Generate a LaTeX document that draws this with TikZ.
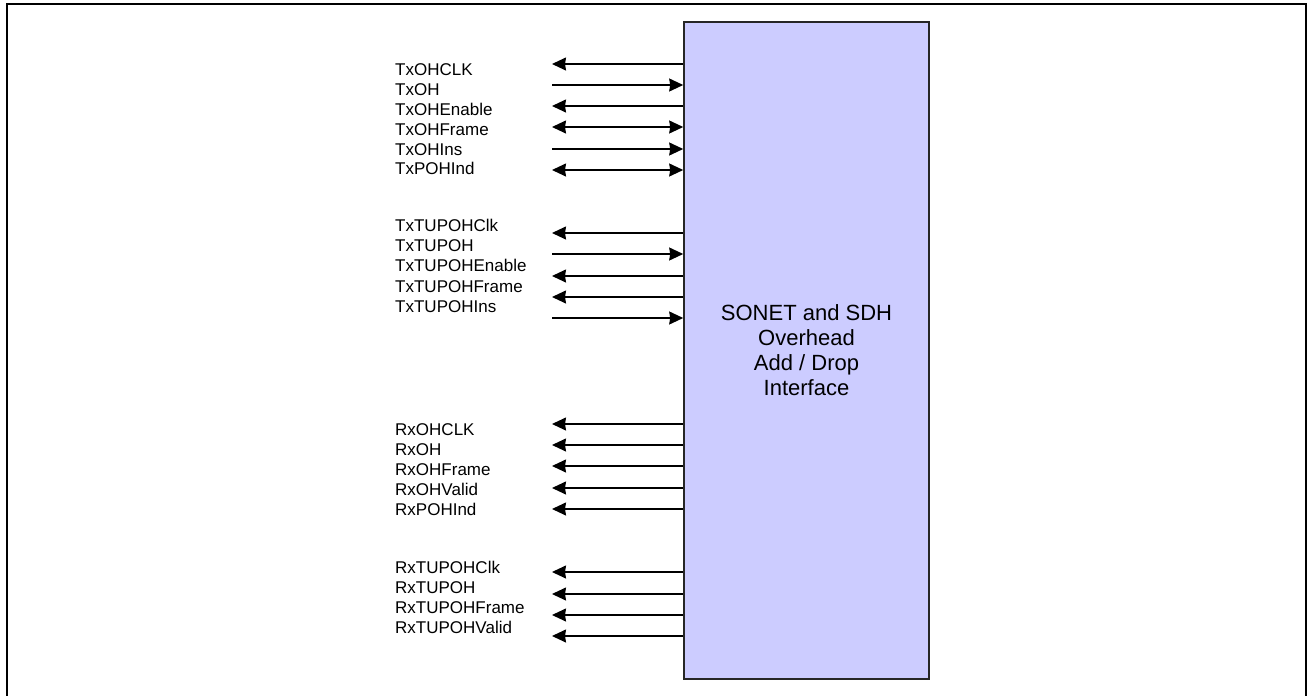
\documentclass[tikz,border=0pt]{standalone}
\usepackage{fontspec}
\setmainfont{Liberation Sans}
\usetikzlibrary{arrows.meta}
\definecolor{blockfill}{HTML}{CCCCFF}
\tikzset{
  tipshape/.tip={Stealth[length=14pt,width=13pt,inset=1pt]},
  sig/.style={line width=1.5pt, -tipshape},
  sigl/.style={line width=1.5pt, tipshape-},
  sigb/.style={line width=1.5pt, tipshape-tipshape},
  lbl/.style={anchor=base west, inner sep=0pt, font=\fontsize{17}{20}\selectfont},
  blockbox/.style={draw=black!85, line width=1.6pt, fill=blockfill, minimum width=245pt, minimum height=657pt, inner sep=0pt, align=center, font=\fontsize{22}{25}\selectfont}
}
\begin{document}
\begin{tikzpicture}[x=1pt,y=-1pt]
\useasboundingbox (0,0) rectangle (1307,696);
\draw[line width=2.5pt] (7,4) rectangle (1306,702);
\node[blockbox] (blk) at (806.5,350.5) {SONET and SDH\\Overhead\\Add / Drop\\Interface};
% Tx OH group
\node[lbl] (l1) at (395,75.5) {TxOHCLK};
\node[lbl] (l2) at (395,95.5) {TxOH};
\node[lbl] (l3) at (395,115.5) {TxOHEnable};
\node[lbl] (l4) at (395,135.5) {TxOHFrame};
\node[lbl] (l5) at (395,155) {TxOHIns};
\node[lbl] (l6) at (395,174.5) {TxPOHInd};
\coordinate (a1) at (552,64);
\coordinate (a2) at (552,85);
\coordinate (a3) at (552,106);
\coordinate (a4) at (552,127);
\coordinate (a5) at (552,149);
\coordinate (a6) at (552,170);
\draw[sigl] (a1) -- (a1 -| blk.west);
\draw[sig]  (a2) -- (a2 -| blk.west);
\draw[sigl] (a3) -- (a3 -| blk.west);
\draw[sigb] (a4) -- (a4 -| blk.west);
\draw[sig]  (a5) -- (a5 -| blk.west);
\draw[sigb] (a6) -- (a6 -| blk.west);
% Tx TUPOH group
\node[lbl] (m1) at (395,231) {TxTUPOHClk};
\node[lbl] (m2) at (395,251) {TxTUPOH};
\node[lbl] (m3) at (395,271) {TxTUPOHEnable};
\node[lbl] (m4) at (395,292.5) {TxTUPOHFrame};
\node[lbl] (m5) at (395,312.5) {TxTUPOHIns};
\coordinate (b1) at (552,233);
\coordinate (b2) at (552,254);
\coordinate (b3) at (552,276);
\coordinate (b4) at (552,297);
\coordinate (b5) at (552,318);
\draw[sigl] (b1) -- (b1 -| blk.west);
\draw[sig]  (b2) -- (b2 -| blk.west);
\draw[sigl] (b3) -- (b3 -| blk.west);
\draw[sigl] (b4) -- (b4 -| blk.west);
\draw[sig]  (b5) -- (b5 -| blk.west);
% Rx OH group
\node[lbl] (n1) at (395,435) {RxOHCLK};
\node[lbl] (n2) at (395,455) {RxOH};
\node[lbl] (n3) at (395,475) {RxOHFrame};
\node[lbl] (n4) at (395,495) {RxOHValid};
\node[lbl] (n5) at (395,515) {RxPOHInd};
\coordinate (c1) at (552,424);
\coordinate (c2) at (552,445);
\coordinate (c3) at (552,466);
\coordinate (c4) at (552,488);
\coordinate (c5) at (552,509);
\draw[sigl] (c1) -- (c1 -| blk.west);
\draw[sigl] (c2) -- (c2 -| blk.west);
\draw[sigl] (c3) -- (c3 -| blk.west);
\draw[sigl] (c4) -- (c4 -| blk.west);
\draw[sigl] (c5) -- (c5 -| blk.west);
% Rx TUPOH group
\node[lbl] (p1) at (395,573) {RxTUPOHClk};
\node[lbl] (p2) at (395,593) {RxTUPOH};
\node[lbl] (p3) at (395,613) {RxTUPOHFrame};
\node[lbl] (p4) at (395,633) {RxTUPOHValid};
\coordinate (d1) at (552,572);
\coordinate (d2) at (552,594);
\coordinate (d3) at (552,615);
\coordinate (d4) at (552,636);
\draw[sigl] (d1) -- (d1 -| blk.west);
\draw[sigl] (d2) -- (d2 -| blk.west);
\draw[sigl] (d3) -- (d3 -| blk.west);
\draw[sigl] (d4) -- (d4 -| blk.west);
\end{tikzpicture}
\end{document}
